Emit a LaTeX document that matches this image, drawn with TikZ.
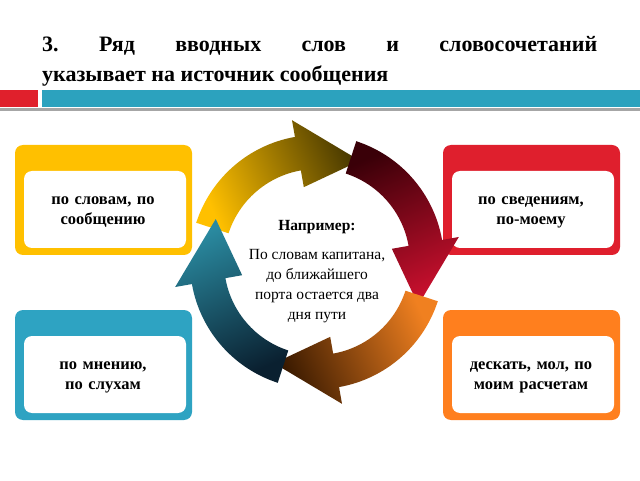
\documentclass[tikz,border=0pt]{standalone}
\usepackage{fontspec}
\setmainfont{Liberation Serif}
\definecolor{cy}{HTML}{FFC000}\definecolor{cr}{HTML}{DF1F2D}
\definecolor{ct}{HTML}{2EA3C2}\definecolor{co}{HTML}{FF7F1E}
\definecolor{barred}{HTML}{E0202C}\definecolor{barteal}{HTML}{2CA2BE}
\begin{document}
\begin{tikzpicture}[x=1pt,y=1pt,
  outerbox/.style={rounded corners=8pt},
  innerbox/.style={fill=white,rounded corners=8pt},
  boxtext/.style={font=\fontsize{16.5}{20}\selectfont\bfseries,align=center,text width=160pt},
  ctext/.style={font=\fontsize{15.5}{20}\selectfont,align=center}]
\useasboundingbox (0,0) rectangle (640,480);
\fill[white] (0,0) rectangle (640,480);
% title
\node[anchor=base west,inner sep=0,font=\fontsize{22}{28}\selectfont\bfseries] (t1) at (42,428) {\makebox[555pt]{3.\hfill Ряд\hfill вводных\hfill слов\hfill и\hfill словосочетаний}};
\node[anchor=base west,inner sep=0,font=\fontsize{22}{28}\selectfont\bfseries] (t2) at (42,398) {указывает на источник сообщения};
% header bar
\fill[barred] (0,373) rectangle (38,390);
\fill[barteal] (42,373) rectangle (640,390);
\fill[gray!70] (0,369) rectangle (640,371.5);
% boxes
\foreach \x/\y/\c in {15/225/cy,443/225/cr,15/60/ct,443/60/co}{
  \fill[\c,outerbox] (\x,\y) rectangle ++(177,110);
  \fill[innerbox] (\x+9,\y+7) rectangle ++(162,77);
}
\node[boxtext] (b1) at (103,268) {по словам, по сообщению};
\node[boxtext] (b2) at (531,268) {по сведениям, по-моему};
\node[boxtext] (b3) at (103,103) {по мнению, по слухам};
\node[boxtext] (b4) at (531,103) {дескать, мол, по моим расчетам};
% arrows
\begin{scope}[shift={(317,218)}]
\foreach \a/\ca/\cb in {162/FFC000/4A3A00, 72/3A0008/C8102E, -18/F08020/3A1A00, -108/0A2030/2A8AA0}{
  \definecolor{tc}{HTML}{\ca}\definecolor{hc}{HTML}{\cb}
  \pgfmathsetmacro\myang{\a-228}
  \shade[bottom color=tc, top color=hc, shading angle=\myang]
    (\a:127) arc[start angle=\a, end angle=\a-62, radius=127]
    -- (\a-62:144) -- (\a-95:110) -- (\a-62:76)
    -- (\a-62:93) arc[start angle=\a-62, end angle=\a, radius=93] -- cycle;
}
\end{scope}
\node[ctext,font=\fontsize{15.5}{20}\selectfont\bfseries] (ex) at (317,253) {Например:};
\node[ctext] (et) at (317,194) {По словам капитана,\\до ближайшего\\порта остается два\\дня пути};
\end{tikzpicture}
\end{document}
